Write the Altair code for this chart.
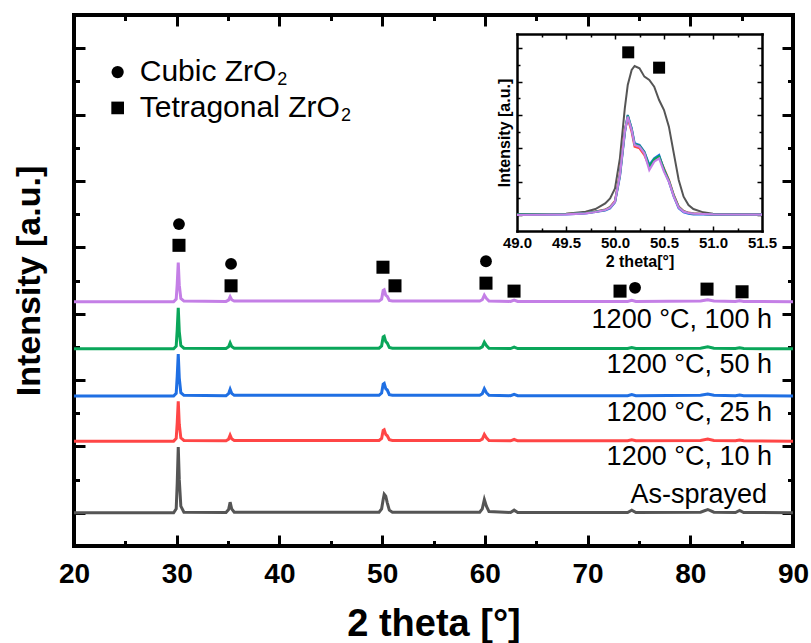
import altair as alt
import pandas as pd

FONT = "Liberation Sans"
W, H = 719, 531
IX0, IX1 = 443, 688   # inset plot range (px inside main plot)
IY0, IY1 = 216, 19

# ---------------- main XRD patterns ----------------
two_theta = [20, 29.7, 29.95, 30.05, 30.15, 30.25, 30.4, 30.7,
             34.8, 35.05, 35.2, 35.35, 35.6,
             49.7, 49.95, 50.1, 50.2, 50.35, 50.5, 50.7, 51.0,
             59.5, 59.75, 59.95, 60.15, 60.4,
             62.5, 62.85, 63.2,
             73.9, 74.3, 74.7,
             81.0, 81.7, 82.3,
             84.4, 84.8, 85.2,
             90]
series_names = ["As-sprayed", "1200 °C, 10 h", "1200 °C, 25 h", "1200 °C, 50 h", "1200 °C, 100 h"]
series_colors = ["#555555", "#ff4646", "#1f6fe3", "#0aa65a", "#c47fe6"]
series_offsets = [0.0, 1.08, 1.76, 2.47, 3.18]

int_as = [0, 0, 0.06, 0.45, 0.99, 0.5, 0.1, 0.01,
          0.005, 0.05, 0.16, 0.06, 0.01,
          0.01, 0.06, 0.2, 0.28, 0.25, 0.15, 0.04, 0.01,
          0.01, 0.06, 0.2, 0.1, 0.02,
          0.005, 0.04, 0.005,
          0.005, 0.04, 0.005,
          0.01, 0.05, 0.01,
          0.005, 0.035, 0.005,
          0]
int_10 = [0, 0, 0.04, 0.28, 0.60, 0.25, 0.05, 0.01,
          0.005, 0.03, 0.09, 0.035, 0.01,
          0.01, 0.04, 0.16, 0.17, 0.1, 0.08, 0.02, 0.01,
          0.01, 0.03, 0.10, 0.05, 0.01,
          0.005, 0.025, 0.005,
          0.005, 0.02, 0.005,
          0.01, 0.03, 0.01,
          0.005, 0.015, 0.005,
          0]
int_25 = [0, 0, 0.04, 0.3, 0.63, 0.27, 0.05, 0.01,
          0.005, 0.035, 0.1, 0.04, 0.01,
          0.01, 0.045, 0.18, 0.19, 0.11, 0.09, 0.02, 0.01,
          0.01, 0.035, 0.11, 0.05, 0.01,
          0.005, 0.025, 0.005,
          0.005, 0.02, 0.005,
          0.01, 0.03, 0.01,
          0.005, 0.015, 0.005,
          0]
int_50 = [0, 0, 0.04, 0.29, 0.62, 0.26, 0.05, 0.01,
          0.005, 0.03, 0.09, 0.035, 0.01,
          0.01, 0.045, 0.18, 0.19, 0.11, 0.085, 0.02, 0.01,
          0.01, 0.03, 0.10, 0.05, 0.01,
          0.005, 0.025, 0.005,
          0.005, 0.02, 0.005,
          0.01, 0.03, 0.01,
          0.005, 0.015, 0.005,
          0]
int_100 = [0, 0, 0.04, 0.27, 0.59, 0.25, 0.05, 0.01,
           0.005, 0.025, 0.075, 0.03, 0.01,
           0.01, 0.04, 0.17, 0.18, 0.1, 0.08, 0.02, 0.01,
           0.01, 0.03, 0.10, 0.05, 0.01,
           0.005, 0.025, 0.005,
           0.005, 0.02, 0.005,
           0.01, 0.03, 0.01,
           0.005, 0.015, 0.005,
           0]
series_values = [int_as, int_10, int_25, int_50, int_100]

label_x = [87.47, 87.96, 87.96, 87.96, 87.96]
label_y = [0.27, 0.84, 1.50, 2.23, 2.90]

cubic_x = [30.22, 35.29, 60.11, 74.62]
cubic_y = [4.35, 3.75, 3.79, 3.39]
tetra_x = [30.22, 35.29, 50.08, 51.25, 60.11, 62.84, 73.16, 81.63, 85.04]
tetra_y = [4.03, 3.42, 3.70, 3.42, 3.46, 3.34, 3.34, 3.37, 3.33]

legend_names = ["Cubic ZrO", "Tetragonal ZrO"]
legend_phase = ["Cubic", "Tetragonal"]
legend_sym_x = [24.25, 24.25]
legend_text_x = [26.4, 26.4]
legend_y = [6.64, 6.10]
legend_sub_x = [39.8, 46.0]

# ---------------- inset (zoom of the ~50° peak) ----------------
inset_theta = [49.0, 49.5, 49.7, 49.8, 49.9, 49.95, 50.0, 50.05, 50.1, 50.13, 50.17,
               50.2, 50.25, 50.3, 50.35, 50.4, 50.45, 50.5, 50.55, 50.6, 50.65,
               50.7, 50.75, 50.8, 50.9, 51.0, 51.5]
ins_as = [2, 4, 10, 18, 35, 50, 80, 170, 320, 390, 435, 447, 440, 415, 405, 385, 345,
          315, 265, 185, 105, 55, 30, 18, 8, 4, 2]
ins_10 = [1, 3, 6, 10, 16, 24, 42, 125, 255, 290, 250, 205, 200, 180, 145, 165, 175,
          140, 105, 60, 25, 12, 7, 5, 3, 2, 1]
ins_25 = [1, 2, 5, 9, 14, 20, 38, 115, 245, 300, 260, 215, 210, 190, 150, 170, 180,
          135, 100, 55, 20, 8, 4, 2, 2, 1, 1]
ins_50 = [1, 3, 6, 10, 15, 23, 40, 120, 250, 298, 258, 212, 208, 188, 145, 168, 176,
          137, 103, 58, 24, 11, 6, 4, 3, 2, 1]
ins_100 = [0, 2, 5, 9, 15, 22, 40, 120, 250, 295, 255, 210, 205, 185, 135, 160, 170,
           130, 100, 55, 22, 10, 6, 4, 3, 2, 1]
inset_values = [ins_as, ins_10, ins_25, ins_50, ins_100]
inset_sq_x = [50.135, 50.45]
inset_sq_y = [488, 442]

# ---------------- tables ----------------
rows = []
for name, off, vals in zip(series_names, series_offsets, series_values):
    for t, v in zip(two_theta, vals):
        rows.append({"x": t, "y": off + v, "series": name})
df_main = pd.DataFrame(rows)

df_labels = pd.DataFrame({"x": label_x, "y": label_y, "text": series_names})
df_marks = pd.DataFrame({
    "x": cubic_x + tetra_x,
    "y": cubic_y + tetra_y,
    "phase": ["Cubic"] * len(cubic_x) + ["Tetragonal"] * len(tetra_x),
})
df_leg = pd.DataFrame({"sx": legend_sym_x, "tx": legend_text_x, "subx": legend_sub_x,
                       "y": legend_y, "text": legend_names, "phase": legend_phase,
                       "sub": ["2", "2"]})

irows = []
for name, vals in zip(series_names, inset_values):
    for t, v in zip(inset_theta, vals):
        irows.append({"x": t, "y": v, "series": name})
df_ins = pd.DataFrame(irows)
df_ins_gray = df_ins[df_ins.series == series_names[0]]
df_ins_col = df_ins[df_ins.series != series_names[0]]
df_ins_sq = pd.DataFrame({"x": inset_sq_x, "y": inset_sq_y})

# ---------------- scales ----------------
def xs_main():
    return alt.Scale(domain=[20, 90], nice=False, zero=False)

def ys_main():
    return alt.Scale(domain=[-0.5, 7.5], nice=False, zero=False)

def xs_ins():
    return alt.Scale(domain=[49, 51.5], range=[IX0, IX1], nice=False, zero=False)

def ys_ins():
    return alt.Scale(domain=[-48, 543], range=[IY0, IY1], nice=False, zero=False)

color_scale = alt.Scale(domain=series_names, range=series_colors)
shape_scale = alt.Scale(domain=["Cubic", "Tetragonal"], range=["circle", "square"])

# ---------------- axes ----------------
def tick_axis(orient, offset, values, test, big, small, width, domain=False, dwidth=2.5):
    kw = dict(orient=orient, offset=offset, values=values, labels=False, title=None,
              ticks=True, tickColor="black", tickWidth=width,
              tickSize={"condition": {"test": test, "value": big}, "value": small},
              grid=False, domain=domain, minExtent=0)
    if domain:
        kw.update(domainColor="black", domainWidth=dwidth, domainCap="square")
    return alt.Axis(**kw)

main_xt = [25, 30, 35, 40, 45, 50, 55, 60, 65, 70, 75, 80, 85]
main_yt = [0, 0.5, 1, 1.5, 2, 2.5, 3, 3.5, 4, 4.5, 5, 5.5, 6, 6.5, 7]
MX = "datum.value % 10 === 0"
MY = "datum.value % 1 === 0"

ax_main_bottom = alt.Axis(orient="bottom", values=[20, 30, 40, 50, 60, 70, 80, 90],
                          ticks=False, tickSize=0, domain=False, grid=False,
                          labelFont=FONT, labelFontSize=28, labelFontWeight="bold",
                          labelColor="black", labelPadding=14, labelFlush=False,
                          labelOverlap=False, title="2 theta [°]", titleFont=FONT,
                          titleFontSize=38, titleFontWeight="bold", titleColor="black",
                          titlePadding=17)
ax_main_left = alt.Axis(orient="left", labels=False, ticks=False, tickSize=0, domain=False,
                        grid=False, minExtent=0, title="Intensity [a.u.]", titleFont=FONT,
                        titleFontSize=34, titleFontWeight="bold", titleColor="black",
                        titlePadding=28)

ins_xt = [49.25, 49.5, 49.75, 50.0, 50.25, 50.5, 50.75, 51.0, 51.25]
ins_yt = [0, 50, 100, 150, 200, 250, 300, 350, 400, 450, 500]
IXT = "(datum.value * 4) % 2 === 0"
IYT = "datum.value % 100 === 0"

ax_ins_bottom = alt.Axis(orient="bottom", offset=-(H - IY0),
                         values=[49.0, 49.5, 50.0, 50.5, 51.0, 51.5], format=".1f",
                         ticks=False, tickSize=0, domain=True, domainColor="black",
                         domainWidth=2.5, domainCap="square", grid=False,
                         labelFont=FONT, labelFontSize=15, labelFontWeight="bold",
                         labelColor="black", labelPadding=4, labelFlush=False,
                         labelOverlap=False, title="2 theta[°]", titleFont=FONT,
                         titleFontSize=16, titleFontWeight="bold", titleColor="black",
                         titlePadding=3)
ax_ins_left = alt.Axis(orient="left", offset=-IX0, labels=False, ticks=False, tickSize=0,
                       domain=True, domainColor="black", domainWidth=2.5, domainCap="square",
                       grid=False, minExtent=0, title="Intensity [a.u.]", titleFont=FONT,
                       titleFontSize=16, titleFontWeight="bold", titleColor="black",
                       titlePadding=5)

# ---------------- layers ----------------
main_lines = alt.Chart(df_main).mark_line(strokeWidth=3).encode(
    x=alt.X("x:Q", scale=xs_main(), axis=ax_main_bottom),
    y=alt.Y("y:Q", scale=ys_main(), axis=ax_main_left),
    color=alt.Color("series:N", scale=color_scale, legend=None),
)

main_marks = alt.Chart(df_marks).mark_point(filled=True, opacity=1, color="black",
                                             strokeWidth=0).encode(
    x=alt.X("x:Q", scale=xs_main(), axis=tick_axis("top", -H, main_xt, MX, 11, 5.5, 3)),
    y=alt.Y("y:Q", scale=ys_main(), axis=tick_axis("right", -W, main_yt, MY, 11, 5.5, 3)),
    shape=alt.Shape("phase:N", scale=shape_scale, legend=None),
    size=alt.Size("phase:N", scale=alt.Scale(domain=["Cubic", "Tetragonal"], range=[140, 170]),
                  legend=None),
)

main_labels = alt.Chart(df_labels).mark_text(align="right", baseline="middle", font=FONT,
                                              fontSize=27, color="black").encode(
    x=alt.X("x:Q", scale=xs_main(), axis=tick_axis("bottom", -H, main_xt, MX, 11, 5.5, 3)),
    y=alt.Y("y:Q", scale=ys_main(), axis=tick_axis("left", -W, main_yt, MY, 11, 5.5, 3)),
    text="text:N",
)

leg_sym = alt.Chart(df_leg).mark_point(filled=True, opacity=1, color="black",
                                        strokeWidth=0).encode(
    x=alt.X("sx:Q", scale=xs_main(), axis=None),
    y=alt.Y("y:Q", scale=ys_main(), axis=None),
    shape=alt.Shape("phase:N", scale=shape_scale, legend=None),
    size=alt.Size("phase:N", scale=alt.Scale(domain=["Cubic", "Tetragonal"], range=[150, 160]),
                  legend=None),
)
leg_text = alt.Chart(df_leg).mark_text(align="left", baseline="middle", font=FONT,
                                        fontSize=30, color="black").encode(
    x=alt.X("tx:Q", scale=xs_main(), axis=None),
    y=alt.Y("y:Q", scale=ys_main(), axis=None),
    text="text:N",
)
leg_sub = alt.Chart(df_leg).mark_text(align="left", baseline="middle", font=FONT,
                                       fontSize=18, color="black", dy=8).encode(
    x=alt.X("subx:Q", scale=xs_main(), axis=None),
    y=alt.Y("y:Q", scale=ys_main(), axis=None),
    text="sub:N",
)

ins_gray = alt.Chart(df_ins_gray).mark_line(strokeWidth=2, color="#555555").encode(
    x=alt.X("x:Q", scale=xs_ins(), axis=ax_ins_bottom),
    y=alt.Y("y:Q", scale=ys_ins(), axis=ax_ins_left),
)
ins_col = alt.Chart(df_ins_col).mark_line(strokeWidth=2.2).encode(
    x=alt.X("x:Q", scale=xs_ins(), axis=tick_axis("top", -IY0, ins_xt, IXT, 5, 3, 1.5)),
    y=alt.Y("y:Q", scale=ys_ins(),
            axis=tick_axis("right", -(W - IX0), ins_yt, IYT, 5, 3, 1.5)),
    color=alt.Color("series:N", scale=color_scale, legend=None),
)
ins_sq = alt.Chart(df_ins_sq).mark_point(shape="square", filled=True, opacity=1, color="black",
                                          strokeWidth=0, size=144).encode(
    x=alt.X("x:Q", scale=xs_ins(),
            axis=tick_axis("bottom", -(H - IY1), ins_xt, IXT, 5, 3, 1.5, domain=True)),
    y=alt.Y("y:Q", scale=ys_ins(),
            axis=tick_axis("left", -IX1, ins_yt, IYT, 5, 3, 1.5, domain=True)),
)

chart = alt.layer(
    main_lines, main_marks, main_labels, leg_sym, leg_text, leg_sub,
    ins_gray, ins_col, ins_sq,
).resolve_scale(
    x="independent", y="independent", color="independent", shape="independent",
    size="independent",
).resolve_axis(
    x="independent", y="independent",
).properties(
    width=W, height=H,
    padding={"left": 74, "top": 15, "right": 18, "bottom": 97},
    autosize=alt.AutoSizeParams(type="none"),
    background="white",
).configure_view(
    stroke="black", strokeWidth=4,
)

chart.save("out.html", embed_options={"renderer": "svg", "actions": False})
